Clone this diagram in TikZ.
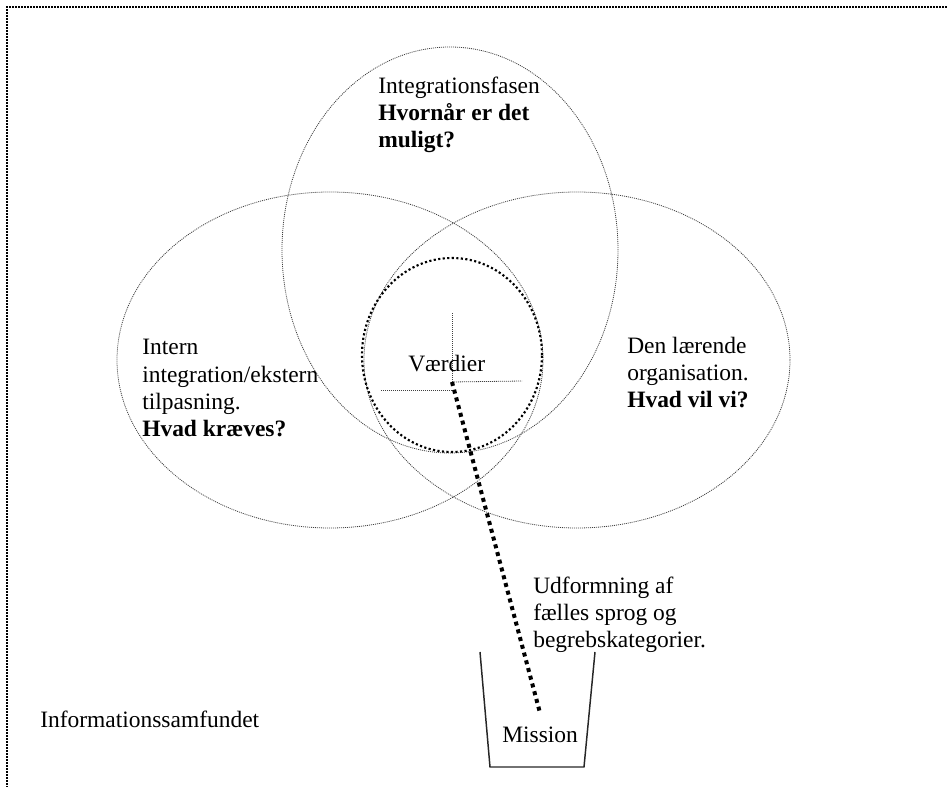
\documentclass[tikz,border=0pt]{standalone}
\usepackage{fontspec}
\setmainfont{Liberation Serif}
\usetikzlibrary{shapes.geometric}

\begin{document}
\begin{tikzpicture}[x=0.75pt, y=-0.75pt,
    ring/.style={draw=black!75, ellipse, inner sep=0pt, line width=0.6pt, dash pattern=on 0.75pt off 0.75pt},
    core/.style={draw=black, ellipse, inner sep=0pt, line width=1.6pt, dash pattern=on 1.6pt off 1.8pt},
    hair/.style={draw=black!75, line width=0.6pt, dash pattern=on 0.75pt off 0.75pt},
    link/.style={draw=black, line width=3pt, dash pattern=on 3pt off 3pt},
    txt/.style={anchor=base west, inner sep=0pt, align=left, font=\fontsize{17.6}{20.6}\selectfont}]

  \useasboundingbox (0,0) rectangle (947,787);

  % page frame, cut off at right and bottom
  \draw[black, line width=1.5pt, dash pattern=on 1.5pt off 0.75pt] (947,7) -- (7,7) -- (7,787);

  % the three circles of the model
  \node[ring, minimum width=252pt, minimum height=304.5pt] (integ) at (450,250) {};
  \node[ring, minimum width=319.5pt, minimum height=252pt] (intern) at (330,360) {};
  \node[ring, minimum width=319.5pt, minimum height=252pt] (laer) at (577,360) {};

  % values in the middle
  \node[core, minimum width=135pt, minimum height=145.5pt] (vaerdi) at (452,355) {};
  \coordinate (hub) at (452,382);
  \draw[hair] (hub) -- ++(0,-70);
  \draw[hair] (hub) -- ++(70,-1);
  \draw[hair] (hub) ++(0,8) -- ++(-72,0);
  \node[txt] (vaerditxt) at (408,372) {Værdier};

  % texts in the circles (base = last line)
  \node[txt] (integtxt) at (378,148) {Integrationsfasen\\ \textbf{Hvornår er det}\\ \textbf{muligt?}};
  \node[txt] (interntxt) at (142,437) {Intern\\ integration/ekstern\\ tilpasning.\\ \textbf{Hvad kræves?}};
  \node[txt] (laertxt) at (627,408) {Den lærende\\ organisation.\\ \textbf{Hvad vil vi?}};

  % mission cup and the line down to it
  \node[txt] (udform) at (533,648) {Udformning af\\ fælles sprog og\\ begrebskategorier.};
  \node[txt] (mission) at (502,743) {Mission};
  \draw[black!85, line width=1.1pt] (480,652) -- (490,767) -- (584,767) -- (595,652);
  \draw[link] (hub) -- ([yshift=10.5pt]mission.north);

  \node[txt] (info) at (40,728) {Informationssamfundet};
\end{tikzpicture}
\end{document}
